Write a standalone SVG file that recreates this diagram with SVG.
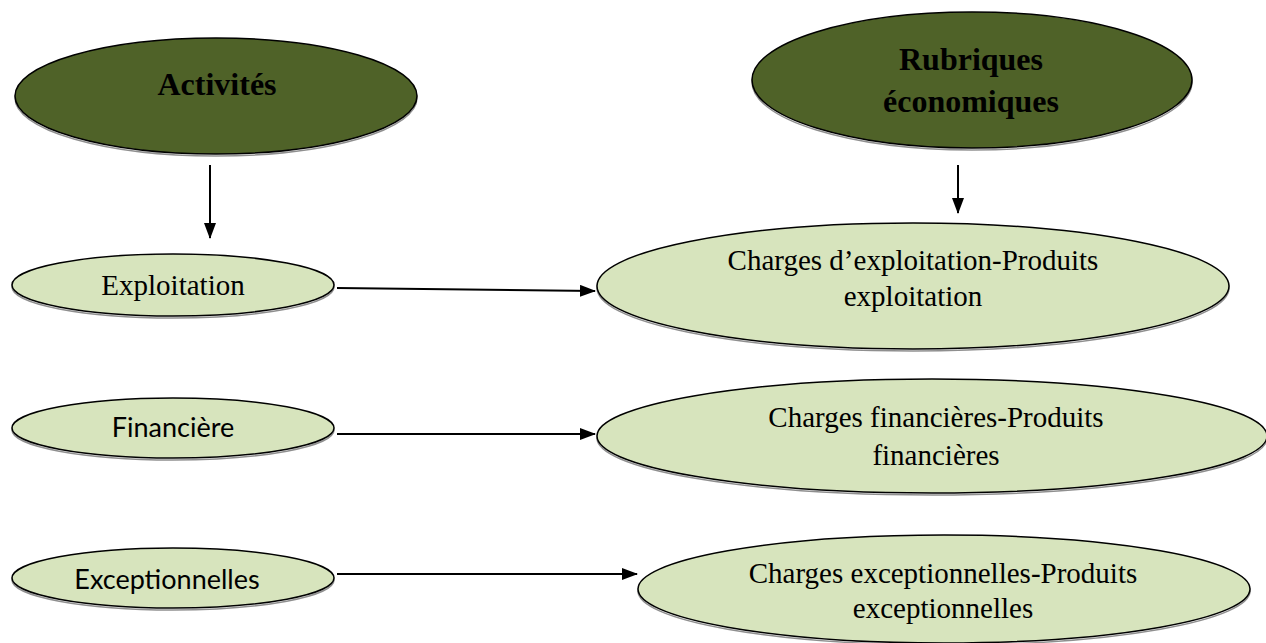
<svg xmlns="http://www.w3.org/2000/svg" width="1266" height="643" viewBox="0 0 1266 643">
  <defs>
    <marker id="arrow" markerWidth="16" markerHeight="12" refX="15" refY="6" orient="auto" markerUnits="userSpaceOnUse">
      <path d="M0,0 L16,6 L0,12 Z" fill="#000"/>
    </marker>
  </defs>
  <style>
    .head { fill: #4F6228; stroke: #000; stroke-width: 1.5; }
    .item { fill: #D7E4BD; stroke: #000; stroke-width: 1.5; }
    .shadow { fill: none; stroke: #444; stroke-width: 1.5; opacity: 0.6; }
    .title { font-family: "Liberation Serif", "Times New Roman", serif; font-weight: bold; font-size: 32px; fill: #000; text-anchor: middle; }
    .serif { font-family: "Liberation Serif", "Times New Roman", serif; font-size: 29px; fill: #000; text-anchor: middle; }
    .sans { font-family: Lato, "Open Sans", sans-serif; font-size: 27px; fill: #000; text-anchor: middle; }
    .link { stroke: #000; stroke-width: 2; fill: none; marker-end: url(#arrow); }
  </style>
  <rect width="1266" height="643" fill="#fff"/>

  <g id="activites">
    <ellipse class="shadow" cx="216" cy="98" rx="201" ry="58"/>
    <ellipse class="head" cx="216" cy="96" rx="201" ry="58"/>
    <text class="title" x="217" y="95">Activités</text>
  </g>

  <g id="rubriques">
    <ellipse class="shadow" cx="972" cy="82" rx="220" ry="68"/>
    <ellipse class="head" cx="972" cy="80" rx="220" ry="68"/>
    <text class="title" x="971" y="70">Rubriques</text>
    <text class="title" x="971" y="112">économiques</text>
  </g>

  <g id="exploitation">
    <ellipse class="shadow" cx="173" cy="287" rx="161" ry="31"/>
    <ellipse class="item" cx="173" cy="285" rx="161" ry="31"/>
    <text class="serif" x="173" y="295">Exploitation</text>
  </g>

  <g id="financiere">
    <ellipse class="shadow" cx="173" cy="430" rx="161" ry="30"/>
    <ellipse class="item" cx="173" cy="428" rx="161" ry="30"/>
    <text class="sans" x="173" y="437">Financière</text>
  </g>

  <g id="exceptionnelles">
    <ellipse class="shadow" cx="173" cy="580" rx="161" ry="30"/>
    <ellipse class="item" cx="173" cy="578" rx="161" ry="30"/>
    <text class="sans" x="167" y="589">Exceptionnelles</text>
  </g>

  <g id="charges-exploitation">
    <ellipse class="shadow" cx="913" cy="288" rx="316" ry="63"/>
    <ellipse class="item" cx="913" cy="286" rx="316" ry="63"/>
    <text class="serif" x="913" y="270">Charges d’exploitation-Produits</text>
    <text class="serif" x="913" y="306">exploitation</text>
  </g>

  <g id="charges-financieres">
    <ellipse class="shadow" cx="932" cy="438" rx="335" ry="57"/>
    <ellipse class="item" cx="932" cy="436" rx="335" ry="57"/>
    <text class="serif" x="936" y="427">Charges financières-Produits</text>
    <text class="serif" x="936" y="465">financières</text>
  </g>

  <g id="charges-exceptionnelles">
    <ellipse class="shadow" cx="944" cy="591" rx="306" ry="54"/>
    <ellipse class="item" cx="944" cy="589" rx="306" ry="54"/>
    <text class="serif" x="943" y="583">Charges exceptionnelles-Produits</text>
    <text class="serif" x="943" y="618">exceptionnelles</text>
  </g>

  <g id="connectors">
    <line class="link" x1="210" y1="165" x2="210" y2="238"/>
    <line class="link" x1="958" y1="165" x2="958" y2="213"/>
    <line class="link" x1="337" y1="288" x2="595" y2="291"/>
    <line class="link" x1="337" y1="434" x2="595" y2="434"/>
    <line class="link" x1="337" y1="574" x2="637" y2="574"/>
  </g>
</svg>
